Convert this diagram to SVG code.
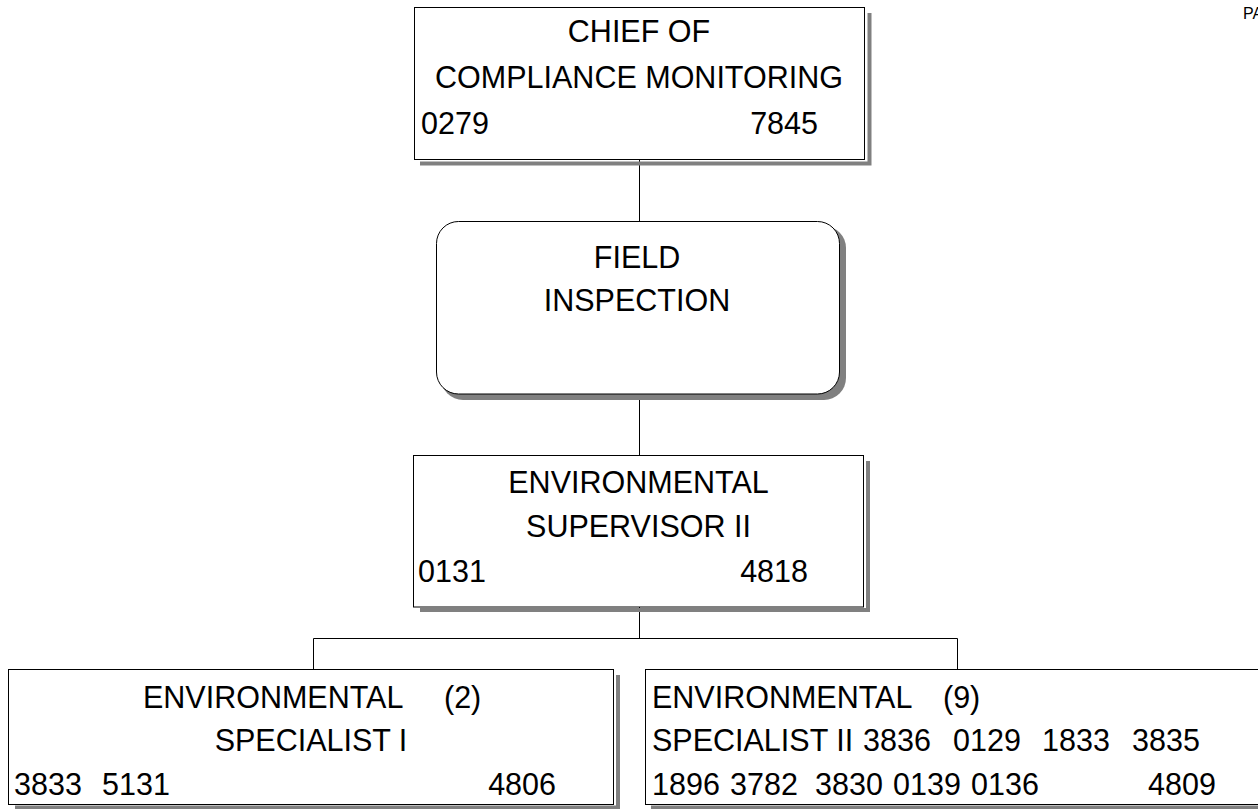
<svg xmlns="http://www.w3.org/2000/svg" width="1258" height="809" viewBox="0 0 1258 809">
  <style>
    .box { fill: #ffffff; stroke: #000000; stroke-width: 1; }
    .shadow { fill: none; stroke: #808080; stroke-width: 4; }
    .t { font-family: "Liberation Sans", Arial, sans-serif; font-size: 30.5px; fill: #000000; }
    .c { text-anchor: middle; }
    .e { text-anchor: end; }
    .line { stroke: #000000; stroke-width: 1; fill: none; }
  </style>

  <rect width="1258" height="809" fill="#ffffff"/>

  <!-- page header, running off the right edge -->
  <text x="1243" y="19" style="font-family:'Liberation Sans', Arial, sans-serif; font-size:16px">PA</text>

  <!-- connectors -->
  <g id="connectors">
    <line class="line" x1="639.5" y1="159" x2="639.5" y2="221"/>
    <line class="line" x1="639.5" y1="394" x2="639.5" y2="455"/>
    <line class="line" x1="639.5" y1="607" x2="639.5" y2="638.5"/>
    <polyline class="line" points="313.5,669 313.5,638.5 957.5,638.5 957.5,669"/>
  </g>

  <!-- chief -->
  <g id="chief">
    <polyline class="shadow" points="420,163.5 869.5,163.5 869.5,13"/>
    <rect class="box" x="414.5" y="7.5" width="450" height="152"/>
    <text class="t c" x="639" y="42">CHIEF OF</text>
    <text class="t c" x="639" y="88">COMPLIANCE MONITORING</text>
    <text class="t" x="421" y="134">0279</text>
    <text class="t e" x="818" y="134">7845</text>
  </g>

  <!-- field inspection -->
  <g id="field">
    <rect x="441" y="226" width="405" height="174" rx="22" fill="#808080"/>
    <rect class="box" x="436.5" y="221.5" width="403" height="172.5" rx="22"/>
    <text class="t c" x="637" y="268">FIELD</text>
    <text class="t c" x="637" y="311">INSPECTION</text>
  </g>

  <!-- supervisor -->
  <g id="supervisor">
    <polyline class="shadow" points="420,610 868,610 868,461"/>
    <rect class="box" x="413.5" y="455.5" width="450" height="151.5"/>
    <text class="t c" x="638.5" y="493">ENVIRONMENTAL</text>
    <text class="t c" x="638.5" y="537">SUPERVISOR II</text>
    <text class="t" x="418" y="582">0131</text>
    <text class="t e" x="808" y="582">4818</text>
  </g>

  <!-- specialist I -->
  <g id="spec1">
    <polyline class="shadow" points="15,807.5 618,807.5 618,675"/>
    <rect class="box" x="8.5" y="669.5" width="605" height="135"/>
    <text class="t" x="143" y="708">ENVIRONMENTAL</text>
    <text class="t" x="444" y="708">(2)</text>
    <text class="t c" x="311" y="751">SPECIALIST I</text>
    <text class="t" x="14" y="795">3833</text>
    <text class="t" x="102" y="795">5131</text>
    <text class="t e" x="556" y="795">4806</text>
  </g>

  <!-- specialist II -->
  <g id="spec2">
    <polyline class="shadow" points="651,807.5 1262,807.5"/>
    <rect class="box" x="645.5" y="669.5" width="620" height="135"/>
    <text class="t" x="652" y="708">ENVIRONMENTAL</text>
    <text class="t" x="943" y="708">(9)</text>
    <text class="t" x="652" y="751">SPECIALIST II</text>
    <text class="t" x="863" y="751">3836</text>
    <text class="t" x="953" y="751">0129</text>
    <text class="t" x="1042" y="751">1833</text>
    <text class="t" x="1132" y="751">3835</text>
    <text class="t" x="652" y="795">1896</text>
    <text class="t" x="730" y="795">3782</text>
    <text class="t" x="815" y="795">3830</text>
    <text class="t" x="893" y="795">0139</text>
    <text class="t" x="971" y="795">0136</text>
    <text class="t" x="1148" y="795">4809</text>
  </g>
</svg>
